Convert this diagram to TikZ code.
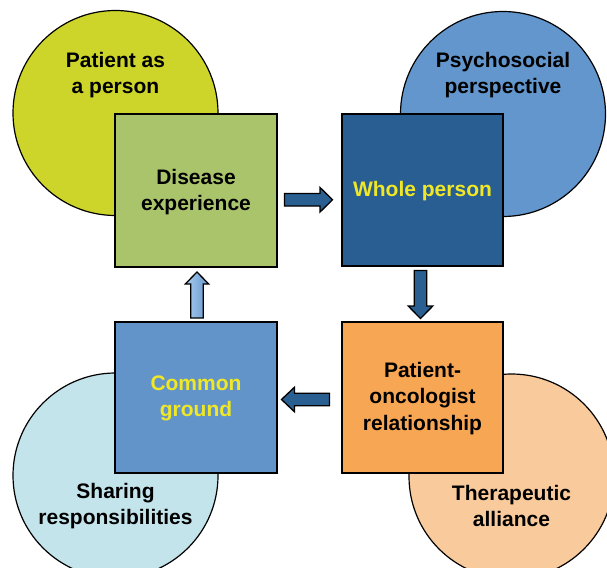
\documentclass[tikz,border=0pt]{standalone}
\usepackage{fontspec}
\setmainfont{Liberation Sans}
\usetikzlibrary{calc}
\definecolor{cYG}{RGB}{205,212,42}
\definecolor{cDis}{RGB}{170,196,108}
\definecolor{cPsy}{RGB}{98,150,204}
\definecolor{cWhole}{RGB}{40,94,146}
\definecolor{cCommon}{RGB}{98,148,202}
\definecolor{cShare}{RGB}{196,228,236}
\definecolor{cPO}{RGB}{247,166,84}
\definecolor{cThera}{RGB}{249,202,156}
\definecolor{cYel}{RGB}{240,232,38}
\definecolor{cArr}{RGB}{42,95,145}
\definecolor{cArrL}{RGB}{170,204,238}
\definecolor{cArrD}{RGB}{100,150,205}
\begin{document}
\begin{tikzpicture}[x=1pt,y=-1pt,
  circ/.style={circle,draw=black,line width=1.2pt,minimum size=205pt,inner sep=0pt},
  box/.style={rectangle,draw=black,line width=1.6pt,minimum width=161pt,minimum height=152pt,inner sep=0pt},
  lbl/.style={align=center,font=\fontsize{21}{26.6}\selectfont\bfseries,text=black,inner sep=0pt},
  ylbl/.style={lbl,text=cYel},
  barrow/.style={draw=black,line width=1.3pt,fill=cArr,line join=miter}
]
\useasboundingbox (0,0) rectangle (607,567);

% circles
\node[circ,fill=cYG] (cPat) at (115.5,113) {};
\node[circ,fill=cPsy] (cPsy) at (503,114) {};
\node[circ,fill=cShare] (cSha) at (115.5,475.5) {};
\node[circ,fill=cThera] (cThe) at (511.5,476.5) {};

\node[lbl] (tPat) at (115.5,75) {Patient as\\a person};
\node[lbl] (tPsy) at (503,75) {Psychosocial\\perspective};
\node[lbl] (tSha) at (115.5,506) {Sharing\\responsibilities};
\node[lbl] (tThe) at (511.5,506) {Therapeutic\\alliance};

% boxes
\node[box,fill=cDis,minimum width=162pt,minimum height=153pt] (dis) at (196,190.5) {};
\node[lbl] (tDis) at ($(dis.center)+(0,1.5)$) {Disease\\experience};
\node[box,fill=cWhole] (whole) at (422.5,190) {};
\node[ylbl] (tWhole) at ($(whole.center)+(0,1.5)$) {Whole person};
\node[box,fill=cCommon,minimum width=162pt,minimum height=151pt] (com) at (196,397.5) {};
\node[ylbl] (tCom) at ($(com.center)+(0,1)$) {Common\\ground};
\node[box,fill=cPO,minimum height=151pt] (po) at (422.5,397.5) {};
\node[lbl] (tPO) at ($(po.center)+(0,1)$) {Patient-\\oncologist\\relationship};

% block arrows
\coordinate (m1) at ($(dis.east)!0.5!(whole.west)+(-1,9.5)$);
\coordinate (m2) at ($(whole.south)!0.5!(po.north)+(-2,0.5)$);
\coordinate (m3) at ($(po.west)!0.5!(com.east)+(-4,2)$);
\coordinate (m4) at ($(com.north)!0.5!(dis.south)+(1,0.5)$);

\begin{scope}[shift={(m1)}]
\draw[barrow] (-24,-6.3) -- (11.5,-6.3) -- (11.5,-12.3) -- (24,0) -- (11.5,12.3) -- (11.5,6.3) -- (-24,6.3) -- cycle;
\end{scope}
\begin{scope}[shift={(m2)}]
\draw[barrow] (-6.3,-24) -- (-6.3,11.5) -- (-12.3,11.5) -- (0,24) -- (12.3,11.5) -- (6.3,11.5) -- (6.3,-24) -- cycle;
\end{scope}
\begin{scope}[shift={(m3)}]
\draw[barrow] (24,-6.3) -- (-11,-6.3) -- (-11,-12.3) -- (-24,0) -- (-11,12.3) -- (-11,6.3) -- (24,6.3) -- cycle;
\end{scope}
\begin{scope}[shift={(m4)}]
\draw[barrow,fill=none,left color=cArrL,right color=cArrD] (-6.3,23) -- (-6.3,-11) -- (-11.7,-11) -- (0,-23) -- (11.7,-11) -- (6.3,-11) -- (6.3,23) -- cycle;
\end{scope}
\end{tikzpicture}
\end{document}
